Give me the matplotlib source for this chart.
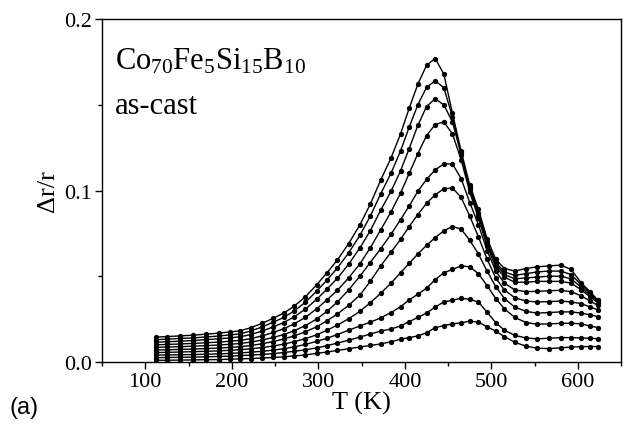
import matplotlib
matplotlib.use("Agg")
import matplotlib.pyplot as plt
from matplotlib.ticker import MultipleLocator, FormatStrFormatter

# Temperatura (K)
T_K = [112, 125, 140, 155, 170, 185, 198, 210, 222, 235, 248, 260, 272, 285,
       298, 310, 322, 335, 348, 360, 372, 384, 395, 405, 415, 425, 435, 445,
       455, 465, 475, 485, 495, 505, 515, 527, 540, 553, 566, 580, 592, 604,
       614, 623]

# Delta r / r, una lista por curva (de arriba hacia abajo)
dr_1 = [0.0145, 0.0148, 0.0152, 0.0156, 0.0162, 0.0168, 0.0175, 0.0182, 0.0200,
        0.0225, 0.0255, 0.0285, 0.0325, 0.0380, 0.0450, 0.0520, 0.0595, 0.0690,
        0.0800, 0.0920, 0.1060, 0.1190, 0.1330, 0.1480, 0.1620, 0.1730, 0.1770,
        0.1680, 0.1450, 0.1230, 0.1030, 0.0890, 0.0720, 0.0600, 0.0545, 0.0530,
        0.0545, 0.0555, 0.0560, 0.0565, 0.0540, 0.0460, 0.0410, 0.0360]
dr_2 = [0.0130, 0.0133, 0.0137, 0.0140, 0.0146, 0.0151, 0.0158, 0.0164, 0.0181,
        0.0204, 0.0232, 0.0260, 0.0297, 0.0348, 0.0413, 0.0478, 0.0548, 0.0636,
        0.0738, 0.0850, 0.0980, 0.1101, 0.1231, 0.1370, 0.1500, 0.1602, 0.1640,
        0.1600, 0.1430, 0.1220, 0.1020, 0.0870, 0.0700, 0.0580, 0.0525, 0.0505,
        0.0515, 0.0525, 0.0530, 0.0530, 0.0510, 0.0450, 0.0400, 0.0360]
dr_3 = [0.0115, 0.0118, 0.0121, 0.0125, 0.0130, 0.0135, 0.0141, 0.0147, 0.0160,
        0.0180, 0.0205, 0.0230, 0.0263, 0.0308, 0.0365, 0.0425, 0.0488, 0.0570,
        0.0665, 0.0765, 0.0885, 0.0995, 0.1115, 0.1245, 0.1380, 0.1490, 0.1535,
        0.1500, 0.1400, 0.1210, 0.1010, 0.0860, 0.0690, 0.0570, 0.0510, 0.0485,
        0.0490, 0.0495, 0.0500, 0.0500, 0.0485, 0.0435, 0.0390, 0.0355]
dr_4 = [0.0100, 0.0102, 0.0105, 0.0108, 0.0112, 0.0116, 0.0121, 0.0126, 0.0136,
        0.0152, 0.0172, 0.0194, 0.0222, 0.0260, 0.0310, 0.0362, 0.0418, 0.0490,
        0.0572, 0.0665, 0.0770, 0.0875, 0.0985, 0.1100, 0.1215, 0.1320, 0.1385,
        0.1400, 0.1330, 0.1180, 0.0990, 0.0840, 0.0675, 0.0555, 0.0495, 0.0465,
        0.0465, 0.0470, 0.0470, 0.0470, 0.0460, 0.0420, 0.0380, 0.0345]
dr_5 = [0.0085, 0.0087, 0.0089, 0.0092, 0.0095, 0.0099, 0.0103, 0.0108, 0.0116,
        0.0128, 0.0143, 0.0160, 0.0182, 0.0212, 0.0250, 0.0295, 0.0350, 0.0420,
        0.0500, 0.0580, 0.0660, 0.0745, 0.0830, 0.0910, 0.0995, 0.1065, 0.1120,
        0.1155, 0.1155, 0.1070, 0.0930, 0.0800, 0.0650, 0.0530, 0.0460, 0.0420,
        0.0410, 0.0412, 0.0415, 0.0418, 0.0410, 0.0385, 0.0355, 0.0330]
dr_6 = [0.0070, 0.0071, 0.0073, 0.0075, 0.0078, 0.0081, 0.0085, 0.0089, 0.0096,
        0.0106, 0.0119, 0.0134, 0.0152, 0.0176, 0.0205, 0.0240, 0.0280, 0.0330,
        0.0390, 0.0470, 0.0560, 0.0640, 0.0715, 0.0790, 0.0860, 0.0925, 0.0975,
        0.1010, 0.1015, 0.0960, 0.0850, 0.0730, 0.0600, 0.0490, 0.0420, 0.0375,
        0.0355, 0.0350, 0.0352, 0.0355, 0.0350, 0.0340, 0.0320, 0.0305]
dr_7 = [0.0055, 0.0056, 0.0058, 0.0060, 0.0062, 0.0065, 0.0068, 0.0072, 0.0077,
        0.0084, 0.0093, 0.0104, 0.0118, 0.0136, 0.0158, 0.0185, 0.0215, 0.0252,
        0.0295, 0.0345, 0.0400, 0.0460, 0.0520, 0.0575, 0.0630, 0.0680, 0.0725,
        0.0765, 0.0790, 0.0775, 0.0710, 0.0630, 0.0530, 0.0440, 0.0370, 0.0320,
        0.0295, 0.0285, 0.0288, 0.0292, 0.0292, 0.0285, 0.0275, 0.0265]
dr_8 = [0.0040, 0.0041, 0.0042, 0.0043, 0.0045, 0.0047, 0.0050, 0.0053, 0.0057,
        0.0062, 0.0069, 0.0077, 0.0088, 0.0102, 0.0120, 0.0138, 0.0160, 0.0185,
        0.0210, 0.0232, 0.0257, 0.0288, 0.0322, 0.0362, 0.0395, 0.0430, 0.0480,
        0.0520, 0.0540, 0.0560, 0.0555, 0.0515, 0.0445, 0.0370, 0.0310, 0.0260,
        0.0230, 0.0220, 0.0222, 0.0225, 0.0226, 0.0222, 0.0210, 0.0200]
dr_9 = [0.0025, 0.0026, 0.0027, 0.0028, 0.0030, 0.0032, 0.0034, 0.0037, 0.0040,
        0.0044, 0.0049, 0.0055, 0.0062, 0.0071, 0.0082, 0.0095, 0.0110, 0.0127,
        0.0145, 0.0163, 0.0180, 0.0192, 0.0210, 0.0235, 0.0260, 0.0285, 0.0320,
        0.0350, 0.0360, 0.0372, 0.0365, 0.0350, 0.0290, 0.0230, 0.0185, 0.0155,
        0.0140, 0.0135, 0.0138, 0.0142, 0.0142, 0.0140, 0.0138, 0.0136]
dr_10 = [0.0010, 0.0010, 0.0011, 0.0012, 0.0013, 0.0014, 0.0016, 0.0018, 0.0020,
         0.0023, 0.0026, 0.0030, 0.0035, 0.0041, 0.0050, 0.0058, 0.0067, 0.0077,
         0.0087, 0.0096, 0.0105, 0.0118, 0.0132, 0.0142, 0.0152, 0.0170, 0.0200,
         0.0212, 0.0222, 0.0228, 0.0238, 0.0232, 0.0205, 0.0180, 0.0148, 0.0115,
         0.0092, 0.0080, 0.0078, 0.0082, 0.0087, 0.0089, 0.0090, 0.0090]

curvas = [dr_1, dr_2, dr_3, dr_4, dr_5, dr_6, dr_7, dr_8, dr_9, dr_10]

plt.rcParams["mathtext.fontset"] = "custom"
plt.rcParams["mathtext.rm"] = "Liberation Serif"
plt.rcParams["mathtext.it"] = "Liberation Serif"

fig = plt.figure(figsize=(6.24, 4.27), dpi=100)
ax = fig.add_axes([0.1635, 0.150, 0.832, 0.803])

for datos in curvas:
    ax.plot(T_K, datos, color="black", linewidth=1.0,
            marker="o", markersize=3.8, markeredgewidth=0)

ax.set_xlim(50, 650)
ax.set_ylim(0, 0.2)

ax.xaxis.set_major_locator(MultipleLocator(100))
ax.xaxis.set_minor_locator(MultipleLocator(50))
ax.yaxis.set_major_locator(MultipleLocator(0.1))
ax.yaxis.set_minor_locator(MultipleLocator(0.05))
ax.yaxis.set_major_formatter(FormatStrFormatter("%.1f"))

ax.tick_params(which="major", direction="out", length=5, width=1,
               labelsize=16, pad=2)
ax.tick_params(which="minor", direction="out", length=3, width=1)
for lbl in ax.get_xticklabels() + ax.get_yticklabels():
    lbl.set_fontfamily("Liberation Serif")

for s in ax.spines.values():
    s.set_linewidth(1)

ax.set_xlabel("T (K)", fontsize=19, family="Liberation Serif", labelpad=0)
ax.set_ylabel("\u0394r/r", fontsize=19, family="Liberation Serif", labelpad=4)

ax.text(0.025, 0.922, r"$\mathrm{Co_{70}Fe_{5}Si_{15}B_{10}}$", transform=ax.transAxes,
        fontsize=22, va="top", ha="left")
ax.text(0.025, 0.79, "as-cast", transform=ax.transAxes, fontsize=22,
        va="top", ha="left", family="Liberation Serif")

fig.text(0.016, 0.03, "(a)", fontsize=17, family="Liberation Sans")

fig.savefig("out.png", dpi=100)
plt.close(fig)
